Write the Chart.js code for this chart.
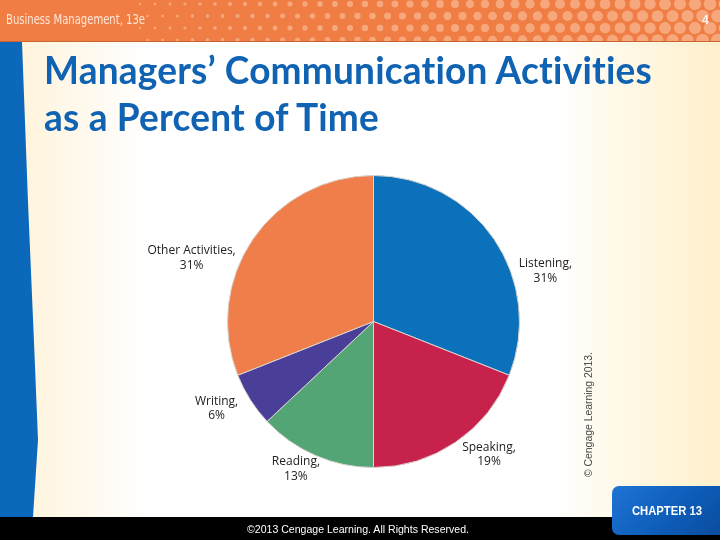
<!DOCTYPE html>
<html>
<head>
<meta charset="utf-8">
<script src="https://cdn.jsdelivr.net/npm/chart.js@4/dist/chart.umd.min.js"></script>
<style>
html,body{margin:0;padding:0;width:720px;height:540px;overflow:hidden;background:#fff;}
#slide{position:relative;width:720px;height:540px;overflow:hidden;
  background:linear-gradient(to right,#fff3d6 0px,#fff8ea 70px,#ffffff 150px,#ffffff 555px,#fff8e6 625px,#fff0cc 720px);}
#header{position:absolute;left:0;top:0;width:720px;height:41px;background:#ef7d44;border-bottom:1px solid #c8652f;}
#strip{position:absolute;left:0;top:42px;width:40px;height:475px;background:#0b68bb;
  clip-path:polygon(0 0,22px 0,28px 160px,34px 300px,38px 398px,33px 475px,0 475px);}
#chart{position:absolute;left:0;top:0;}
.txt{position:absolute;white-space:nowrap;transform-origin:0 0;font-variant-ligatures:none;font-feature-settings:"liga" 0,"clig" 0,"dlig" 0;}
#htext{left:6px;top:10px;font:14px "DejaVu Sans",sans-serif;color:#ffe6d6;line-height:18px;}
#pnum{left:702px;top:13px;font:bold 12px "Liberation Sans",sans-serif;color:#fff2ea;line-height:14px;}
.title{left:44px;font:bold 38px Lato,sans-serif;color:#1063b2;line-height:47px;letter-spacing:0.2px;}
#footer{position:absolute;left:0;top:517px;width:720px;height:23px;background:#000;}
#ftext{left:247px;top:522px;font:11px "Liberation Sans",sans-serif;color:#fff;line-height:14px;}
#tab{position:absolute;left:612px;top:486px;width:118px;height:49px;border-radius:7px;
  background:linear-gradient(135deg,#1f74d4 0%,#0d5cb8 55%,#0a4a9a 100%);}
#ctext{left:632px;top:504px;font:bold 12px "Liberation Sans",sans-serif;color:#fff;line-height:14px;}
#copy{left:582px;top:477px;font:10.5px "Liberation Sans",sans-serif;color:#444;line-height:12px;transform-origin:0 0;}
</style>
</head>
<body>
<div id="slide">
  <div id="header"></div>
  <div id="strip"></div>
  <div id="footer"></div>
  <div id="tab"></div>
  <canvas id="chart" width="720" height="540"></canvas>
  <div class="txt" id="htext">Business Management, 13e</div>
  <div class="txt" id="pnum">4</div>
  <div class="txt title" id="t1" style="top:46px;">Managers’ Communication Activities</div>
  <div class="txt title" id="t2" style="top:93px;">as a Percent of Time</div>
  <div class="txt" id="ftext">©2013 Cengage Learning. All Rights Reserved.</div>
  <div class="txt" id="ctext">CHAPTER 13</div>
  <div class="txt" id="copy">© Cengage Learning 2013.</div>
</div>
<script>
// ---- data ----
const categories = ['Listening', 'Speaking', 'Reading', 'Writing', 'Other Activities'];
const percentValues = [31, 19, 13, 6, 31];
const sliceColors = ['#0a71ba', '#c7224c', '#54a575', '#4a3f98', '#f07e4a'];

// ---- text width fitting (decorative slide text) ----
function fit(id, target, extra) {
  const el = document.getElementById(id);
  const w = el.getBoundingClientRect().width;
  const s = target / w;
  el.style.transform = (extra || '') + ' scaleX(' + s + ')';
  return s;
}
const ts = fit('t1', 608);
document.getElementById('t2').style.transform = 'scaleX(' + ts + ')';
fit('htext', 139);
fit('ftext', 222);
fit('ctext', 70);
fit('copy', 125, 'rotate(-90deg)');

// ---- header dots ----
const headerDots = {
  id: 'headerDots',
  beforeDraw(chart) {
    const ctx = chart.ctx;
    ctx.save();
    ctx.beginPath(); ctx.rect(0, 0, 720, 41); ctx.clip();
    ctx.fillStyle = 'rgba(255,210,180,0.5)';
    for (let j = 0; j < 4; j++) {
      const y = 4 + j * 12;
      for (let i = 0; i < 45; i++) {
        const x = 140 + i * 15 + (j % 2) * 7.5;
        if (x > 730) break;
        const t = (x - 140) / 580;
        const r = 1.2 + t * 5.2;
        ctx.beginPath(); ctx.arc(x, y, r, 0, Math.PI * 2); ctx.fill();
      }
    }
    ctx.restore();
  }
};

// ---- slice labels ----
const sliceLabels = {
  id: 'sliceLabels',
  afterDatasetsDraw(chart, args, opts) {
    const ctx = chart.ctx;
    const meta = chart.getDatasetMeta(0);
    ctx.save();
    ctx.font = opts.font;
    ctx.fillStyle = opts.color;
    ctx.textAlign = 'center';
    ctx.textBaseline = 'middle';
    meta.data.forEach((arc, i) => {
      const p = arc.getProps(['x', 'y', 'startAngle', 'endAngle', 'outerRadius'], true);
      const a = (p.startAngle + p.endAngle) / 2;
      const rr = p.outerRadius * opts.radiusFactor;
      const n = opts.nudges[i] || [0, 0];
      const cx = p.x + Math.cos(a) * rr + n[0];
      const cy = p.y + Math.sin(a) * rr + n[1];
      const label = chart.data.labels[i] + ',';
      const val = chart.data.datasets[0].data[i] + '%';
      ctx.fillText(label, cx, cy - opts.lineHeight / 2);
      ctx.fillText(val, cx, cy + opts.lineHeight / 2);
    });
    ctx.restore();
  }
};

new Chart(document.getElementById('chart'), {
  type: 'pie',
  data: {
    labels: categories,
    datasets: [{
      data: percentValues,
      backgroundColor: sliceColors,
      borderColor: '#d9d4cf',
      borderWidth: 1
    }]
  },
  options: {
    responsive: false,
    animation: false,
    layout: { padding: { left: 227, right: 200, top: 175, bottom: 72 } },
    plugins: {
      legend: { display: false },
      tooltip: { enabled: false },
      sliceLabels: {
        font: '12px "Open Sans", sans-serif',
        color: '#222',
        lineHeight: 14.5,
        radiusFactor: 1.2,
        nudges: [[27, 48], [17, -12], [-8, -13], [-9, -7], [-37, 35]]
      }
    }
  },
  plugins: [headerDots, sliceLabels]
});
</script>
</body>
</html>
